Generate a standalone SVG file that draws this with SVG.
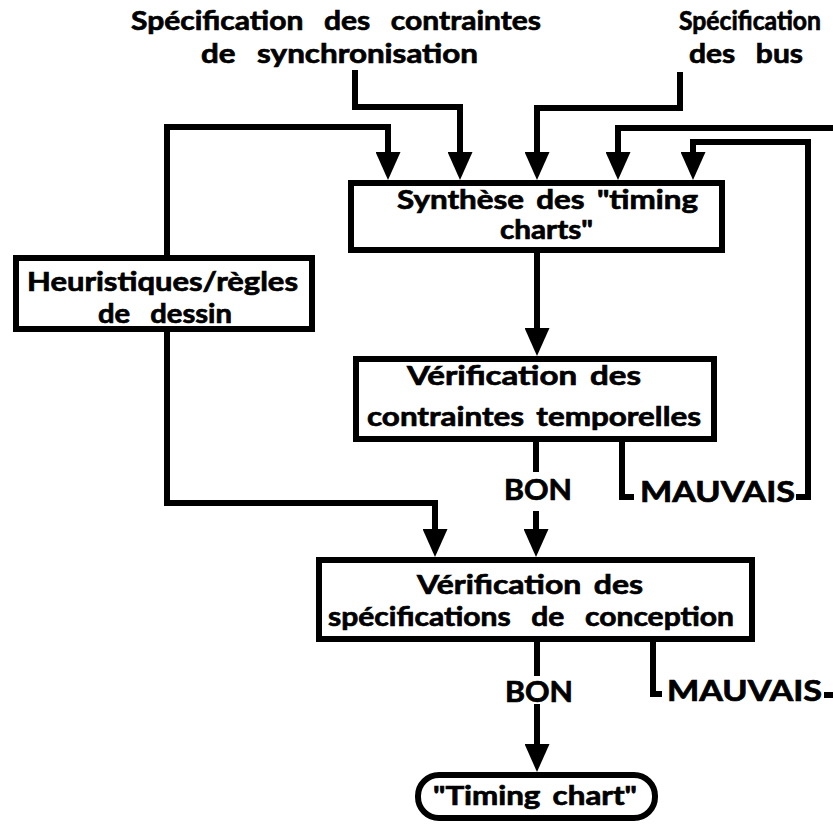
<svg xmlns="http://www.w3.org/2000/svg" width="833" height="824" viewBox="0 0 833 824">
<style>
.box{fill:#fff;stroke:#000;stroke-width:6}
.ln{fill:none;stroke:#000;stroke-width:6;stroke-linejoin:miter;stroke-linecap:butt}
.arr{marker-end:url(#ah)}
.t{font-family:Lato,'Liberation Sans','DejaVu Sans',sans-serif;font-weight:700;font-size:27px;fill:#000;stroke:#000;stroke-width:0.7px;text-anchor:middle;word-spacing:4px}
.ws{word-spacing:12px}
.big{font-size:28px}
</style>
<defs>
<marker id="ah" markerUnits="userSpaceOnUse" markerWidth="28" markerHeight="25" viewBox="0 0 28 25" refX="0" refY="12.5" orient="auto">
<path d="M0,0 L28,12.5 L0,25 Z" fill="#000"/>
</marker>
</defs>
<rect width="833" height="824" fill="#fff"/>

<g id="input-sync">
<text class="t ws" x="336" y="30" textLength="410" lengthAdjust="spacingAndGlyphs">Spécification des contraintes</text>
<text class="t ws" x="339.5" y="63" textLength="277" lengthAdjust="spacingAndGlyphs">de synchronisation</text>
</g>
<g id="input-bus">
<text class="t" x="750" y="30" textLength="142" lengthAdjust="spacingAndGlyphs">Spécification</text>
<text class="t ws" x="746" y="63" textLength="114" lengthAdjust="spacingAndGlyphs">des bus</text>
</g>

<g id="connectors">
<path class="ln arr" d="M167,256 V127 H388 V152"/>
<path class="ln arr" d="M355,70 V107 H460 V152"/>
<path class="ln arr" d="M680,72 V108 H537 V152"/>
<path class="ln arr" d="M833,128 H618 V152"/>
<path class="ln arr" d="M796,497 H808 V142 H693 V152"/>
<path class="ln arr" d="M537,250 V328"/>
<path class="ln" d="M536,441 V472"/>
<path class="ln arr" d="M536,511 V529"/>
<path class="ln arr" d="M167,331 V503 H435 V529"/>
<path class="ln" d="M622,441 V497 H634"/>
<path class="ln" d="M537,641 V676"/>
<path class="ln arr" d="M537,704 V744"/>
<path class="ln" d="M653,641 V694 H662"/>
<path class="ln" d="M824,695 H833"/>
</g>

<g id="node-synthese">
<rect class="box" x="351" y="183" width="371" height="67"/>
<text class="t" x="547.5" y="209" textLength="301" lengthAdjust="spacingAndGlyphs">Synthèse des "timing</text>
<text class="t" x="546.5" y="239" textLength="93" lengthAdjust="spacingAndGlyphs">charts"</text>
</g>

<g id="node-heuristiques">
<rect class="box" x="16" y="258" width="296" height="71"/>
<text class="t" x="162.5" y="291" textLength="271" lengthAdjust="spacingAndGlyphs">Heuristiques/règles</text>
<text class="t ws" x="165" y="323" textLength="134" lengthAdjust="spacingAndGlyphs">de dessin</text>
</g>

<g id="node-verif-temporelles">
<rect class="box" x="356" y="359" width="358" height="80"/>
<text class="t" x="524" y="385" textLength="234" lengthAdjust="spacingAndGlyphs">Vérification des</text>
<text class="t" x="534" y="426" textLength="334" lengthAdjust="spacingAndGlyphs">contraintes temporelles</text>
</g>

<g id="label-bon-1">
<text class="t big" x="538" y="500" textLength="68" lengthAdjust="spacingAndGlyphs">BON</text>
</g>
<g id="label-mauvais-1">
<text class="t big" x="717.5" y="502" textLength="155" lengthAdjust="spacingAndGlyphs">MAUVAIS</text>
</g>

<g id="node-verif-conception">
<rect class="box" x="319" y="560" width="433" height="79"/>
<text class="t" x="530" y="594" textLength="226" lengthAdjust="spacingAndGlyphs">Vérification des</text>
<text class="t ws" x="531" y="626" textLength="406" lengthAdjust="spacingAndGlyphs">spécifications de conception</text>
</g>

<g id="label-bon-2">
<text class="t big" x="539" y="702" textLength="68" lengthAdjust="spacingAndGlyphs">BON</text>
</g>
<g id="label-mauvais-2">
<text class="t big" x="744.5" y="701" textLength="155" lengthAdjust="spacingAndGlyphs">MAUVAIS</text>
</g>

<g id="node-timing-chart">
<rect class="box" x="418" y="775" width="237" height="43" rx="21" ry="21"/>
<text class="t" x="535" y="805" textLength="204" lengthAdjust="spacingAndGlyphs">"Timing chart"</text>
</g>
</svg>
